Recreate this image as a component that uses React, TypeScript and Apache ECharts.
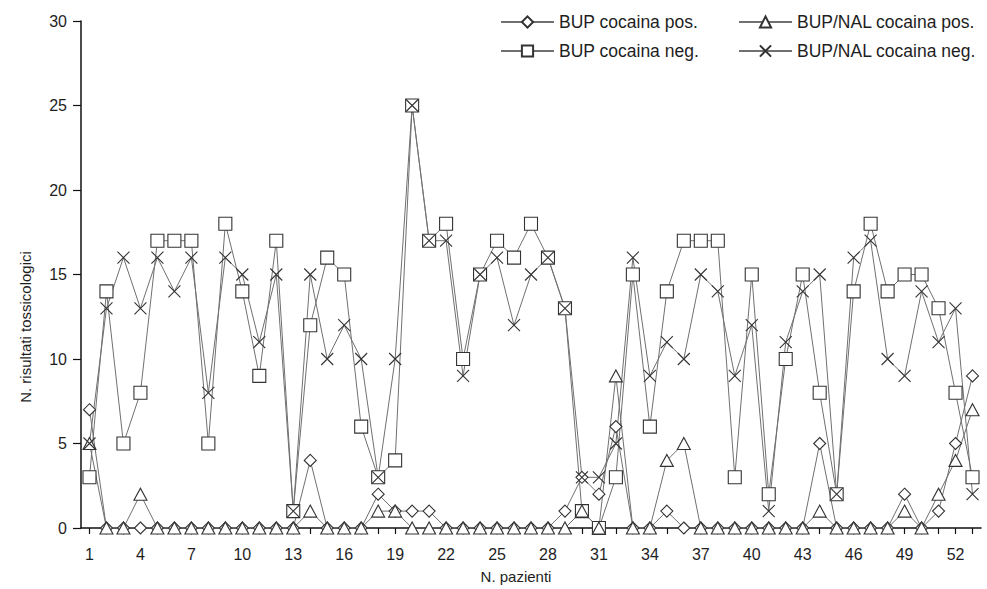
import React, { useEffect, useRef } from "react";
import * as echarts from "echarts";

const patients: string[] = Array.from({ length: 53 }, (_, i) => String(i + 1));

const bupPos: number[] = [
  7, 0, 0, 0, 0, 0, 0, 0, 0, 0, 0, 0, 0, 4, 0, 0, 0, 2, 1, 1, 1, 0, 0, 0, 0, 0, 0, 0,
  1, 3, 2, 6, 0, 0, 1, 0, 0, 0, 0, 0, 0, 0, 0, 5, 0, 0, 0, 0, 2, 0, 1, 5, 9,
];
const bupNeg: number[] = [
  3, 14, 5, 8, 17, 17, 17, 5, 18, 14, 9, 17, 1, 12, 16, 15, 6, 3, 4, 25, 17, 18, 10, 15, 17, 16, 18, 16,
  13, 1, 0, 3, 15, 6, 14, 17, 17, 17, 3, 15, 2, 10, 15, 8, 2, 14, 18, 14, 15, 15, 13, 8, 3,
];
const nalPos: number[] = [
  5, 0, 0, 2, 0, 0, 0, 0, 0, 0, 0, 0, 0, 1, 0, 0, 0, 1, 1, 0, 0, 0, 0, 0, 0, 0, 0, 0,
  0, 1, 0, 9, 0, 0, 4, 5, 0, 0, 0, 0, 0, 0, 0, 1, 0, 0, 0, 0, 1, 0, 2, 4, 7,
];
const nalNeg: number[] = [
  5, 13, 16, 13, 16, 14, 16, 8, 16, 15, 11, 15, 1, 15, 10, 12, 10, 3, 10, 25, 17, 17, 9, 15, 16, 12, 15, 16,
  13, 3, 3, 5, 16, 9, 11, 10, 15, 14, 9, 12, 1, 11, 14, 15, 2, 16, 17, 10, 9, 14, 11, 13, 2,
];

const seriesNames = [
  "BUP cocaina pos.",
  "BUP cocaina neg.",
  "BUP/NAL cocaina pos.",
  "BUP/NAL cocaina neg.",
];

const FONT = "'Liberation Sans', Arial, Helvetica, sans-serif";
const TEXT = "#1e1e1e";
const LINE = "#707070";
const MARK = "#333333";

export default function App() {
  const ref = useRef<HTMLDivElement>(null);
  useEffect(() => {
    if (!ref.current) return;
    const chart = echarts.init(ref.current, undefined, { renderer: "svg" });
    const mk = (name: string, data: number[], symbol: string, size: number | number[]) => ({
      name,
      type: "line",
      data,
      symbol,
      symbolSize: size,
      showAllSymbol: true,
      lineStyle: { color: LINE, width: 1 },
      itemStyle: { color: "#ffffff", borderColor: MARK, borderWidth: 1.1 },
      emphasis: { disabled: true },
    });
    const legendBase = {
      orient: "vertical",
      top: 13,
      padding: 0,
      itemWidth: 53,
      itemHeight: 14,
      itemGap: 11,
      textStyle: { fontSize: 17.5, color: TEXT, fontFamily: FONT },
      selectedMode: false,
    };
    chart.setOption({
      animation: false,
      backgroundColor: "#ffffff",
      textStyle: { fontFamily: FONT },
      grid: { left: 81, right: 6, top: 21, bottom: 60, containLabel: false },
      legend: [
        { ...legendBase, data: [seriesNames[0], seriesNames[1]], left: 500 },
        { ...legendBase, data: [seriesNames[2], seriesNames[3]], left: 738 },
      ],
      xAxis: {
        type: "category",
        data: patients,
        boundaryGap: true,
        name: "N. pazienti",
        nameLocation: "middle",
        nameGap: 41,
        nameTextStyle: { fontSize: 15, color: TEXT, fontFamily: FONT, padding: [0, 30, 0, 0] },
        axisLine: { show: true, lineStyle: { color: "#111", width: 1.5 } },
        axisTick: { show: true, interval: 0, alignWithLabel: true, length: 6, lineStyle: { color: "#111", width: 1.2 } },
        axisLabel: { interval: 2, fontSize: 16, color: TEXT, margin: 18, fontFamily: FONT },
        splitLine: { show: false },
      },
      yAxis: {
        type: "value",
        min: 0,
        max: 30,
        interval: 5,
        axisLine: { show: true, lineStyle: { color: "#111", width: 1.5 } },
        axisTick: { show: true, length: 8, lineStyle: { color: "#111", width: 1.2 } },
        axisLabel: { fontSize: 16, color: TEXT, margin: 14, fontFamily: FONT },
        splitLine: { show: false },
      },
      graphic: [
        {
          type: "text",
          x: 25,
          y: 327,
          rotation: Math.PI / 2,
          style: {
            text: "N. risultati tossicologici",
            font: `15px ${FONT}`,
            fill: TEXT,
            textAlign: "center",
            textVerticalAlign: "middle",
          },
        },
      ],
      series: [
        mk(seriesNames[0], bupPos, "diamond", [12, 12]),
        mk(seriesNames[1], bupNeg, "rect", 13),
        mk(seriesNames[2], nalPos, "triangle", [13, 12]),
        mk(seriesNames[3], nalNeg, "path://M0,0L10,10M0,10L10,0", 12),
      ],
    });
    return () => chart.dispose();
  }, []);
  return (
    <div
      ref={ref}
      style={{ position: "absolute", left: 0, top: 0, width: 987, height: 589 }}
    />
  );
}
